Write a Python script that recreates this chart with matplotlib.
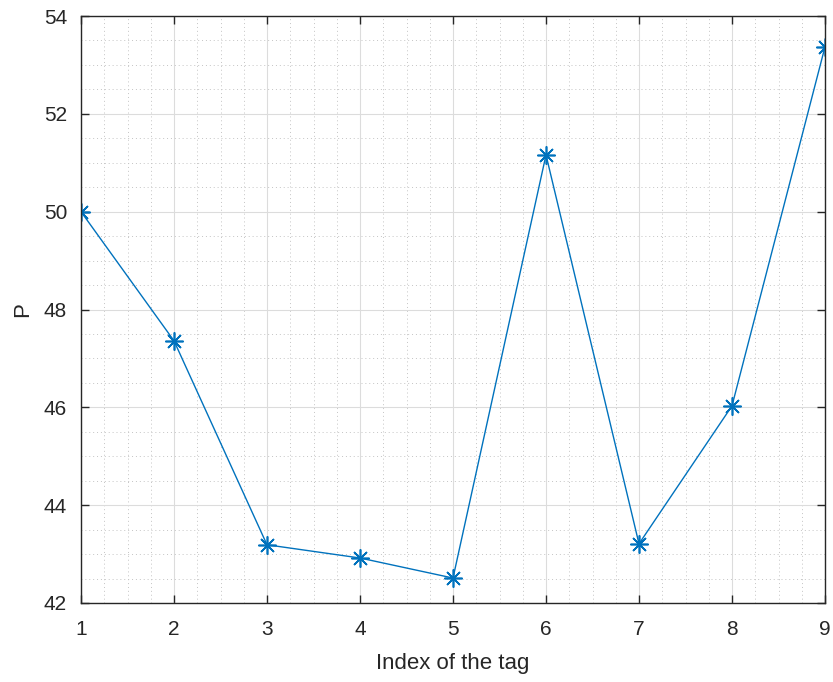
import matplotlib
matplotlib.use('Agg')
import matplotlib.pyplot as plt
from matplotlib.ticker import MultipleLocator

# Valores de P para cada indice de tag
tag_index = [1, 2, 3, 4, 5, 6, 7, 8, 9]
p_values = [50.0, 47.36, 43.19, 42.92, 42.51, 51.16, 43.21, 46.03, 53.37]

plt.rcParams['font.family'] = ['Liberation Sans', 'DejaVu Sans']

fig = plt.figure(figsize=(8.33, 6.82), dpi=100)
ax = fig.add_axes([81 / 833, 1 - 603 / 682, (825 - 81) / 833, (603 - 16) / 682])

# marcador asterisco (8 brazos)
ax.plot(tag_index, p_values, color='#0072BD', linewidth=1.0, marker=(8, 2, 0),
        markersize=13, markeredgewidth=1.2)

ax.set_xlim(1, 9)
ax.set_ylim(42, 54)
ax.xaxis.set_major_locator(MultipleLocator(1))
ax.xaxis.set_minor_locator(MultipleLocator(0.25))
ax.yaxis.set_major_locator(MultipleLocator(2))
ax.yaxis.set_minor_locator(MultipleLocator(0.5))

# Rejilla estilo MATLAB
ax.grid(True, which='major', color='#dcdcdc', linewidth=0.8, linestyle='-')
ax.grid(True, which='minor', color='#c4c4c4', linewidth=0.7, linestyle=(0, (1, 3)))
ax.set_axisbelow(True)

for s in ax.spines.values():
    s.set_color('#262626')
    s.set_linewidth(1.0)

ax.tick_params(which='major', direction='in', length=6, width=1.0, color='#262626',
               top=True, right=True, labelsize=15, labelcolor='#262626')
ax.tick_params(axis='x', which='major', pad=12)
ax.tick_params(axis='y', which='major', pad=10)
ax.tick_params(which='minor', length=0)

ax.set_xlabel('Index of the tag', fontsize=16, color='#262626')
ax.set_ylabel('P', fontsize=16, color='#262626')
ax.xaxis.set_label_coords(0.5, -0.085)
ax.yaxis.set_label_coords(-0.064, 0.5)

fig.savefig('out.png', dpi=100)
